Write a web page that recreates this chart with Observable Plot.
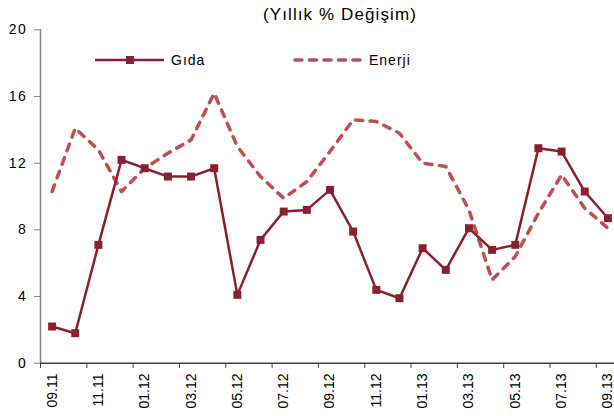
<!DOCTYPE html>
<html><head><meta charset="utf-8">
<script src="https://cdn.jsdelivr.net/npm/d3@7"></script>
<script src="https://cdn.jsdelivr.net/npm/@observablehq/plot@0.6"></script>
<style>
body{margin:0;background:#fff;font-family:"Liberation Sans",Arial,sans-serif;}
#wrap{position:relative;width:614px;height:416px;overflow:hidden;}
#title{position:absolute;top:6px;left:263px;font-size:17px;line-height:1;color:#000;white-space:nowrap;letter-spacing:1.1px;}
.leg{position:absolute;top:51px;height:18px;display:flex;align-items:center;font-size:14px;color:#000;letter-spacing:1px;}
.leg svg{margin-right:6px;}
#chart g[aria-label="y-axis tick label"] text{letter-spacing:1.6px;}
</style></head><body>
<div id="wrap">
  <div id="chart"></div>
  <div id="title">(Yıllık % Değişim)</div>
  <div class="leg" style="left:95px"><svg width="70" height="18"><line x1="0" x2="69" y1="9" y2="9" stroke="#8C1F2E" stroke-width="2.5"/><rect x="31" y="5" width="8" height="8" fill="#8C1F2E"/></svg>Gıda</div>
  <div class="leg" style="left:293px"><svg width="70" height="18"><line x1="2" x2="68" y1="9" y2="9" stroke="#C0504D" stroke-width="3.5" stroke-dasharray="7,7.5" stroke-linecap="round"/></svg>Enerji</div>
</div>
<script>
const months = ["09.11","10.11","11.11","12.11","01.12","02.12","03.12","04.12","05.12","06.12","07.12","08.12","09.12","10.12","11.12","12.12","01.13","02.13","03.13","04.13","05.13","06.13","07.13","08.13","09.13"];
const gida = [2.2,1.8,7.1,12.2,11.7,11.2,11.2,11.7,4.1,7.4,9.1,9.2,10.4,7.9,4.4,3.9,6.9,5.6,8.1,6.8,7.1,12.9,12.7,10.3,8.7];
const enerji = [10.3,14.1,12.8,10.3,11.7,12.6,13.4,16.2,13.0,11.2,9.9,10.9,12.7,14.6,14.5,13.8,12.0,11.8,9.2,5.0,6.4,9.0,11.3,9.3,8.1];
const yTicks = [0,4,8,12,16,20];

const idx = months.map((m, i) => i);
const labelTicks = idx.filter(i => i % 2 === 0);
const boundaryTicks = idx.filter(i => i % 2 === 0).map(i => i - 0.5).concat([24.5]);
const dataG = months.map((m, i) => ({i, v: gida[i]}));
const dataE = months.map((m, i) => ({i, v: enerji[i]}));

const chart = Plot.plot({
  width: 614,
  height: 416,
  marginLeft: 40,
  marginRight: 0,
  marginTop: 29,
  marginBottom: 53,
  style: {fontFamily: '"Liberation Sans", Arial, sans-serif', fontSize: "14px", color: "#000", background: "#fff", overflow: "hidden"},
  x: {domain: [-0.5, 24.5], range: [40, 619]},
  y: {domain: [0, 20], range: [362.7, 29.4]},
  marks: [
    Plot.axisY({ticks: yTicks, tickSize: 6, tickPadding: 7, stroke: "#808080", label: null, fontSize: 14}),
    Plot.axisX({ticks: boundaryTicks, tickSize: 5, tickFormat: () => "", stroke: "#404040", label: null}),
    Plot.axisX({ticks: labelTicks, tickSize: 0, tickPadding: 10, tickRotate: -90, tickFormat: i => months[i], label: null, fontSize: 14}),
    Plot.ruleX([-0.5], {stroke: "#808080", strokeWidth: 1.5}),
    Plot.ruleY([0], {stroke: "#404040", strokeWidth: 1.5}),
    Plot.line(dataE, {x: "i", y: "v", stroke: "#C0504D", strokeWidth: 3.5, strokeDasharray: "7,7.5", strokeLinecap: "round", strokeLinejoin: "round"}),
    Plot.line(dataG, {x: "i", y: "v", stroke: "#8C1F2E", strokeWidth: 2.5}),
    Plot.dot(dataG, {x: "i", y: "v", symbol: "square", r: 4.5, fill: "#8C1F2E", stroke: "none"})
  ]
});
document.getElementById("chart").appendChild(chart);
</script>
</body></html>
